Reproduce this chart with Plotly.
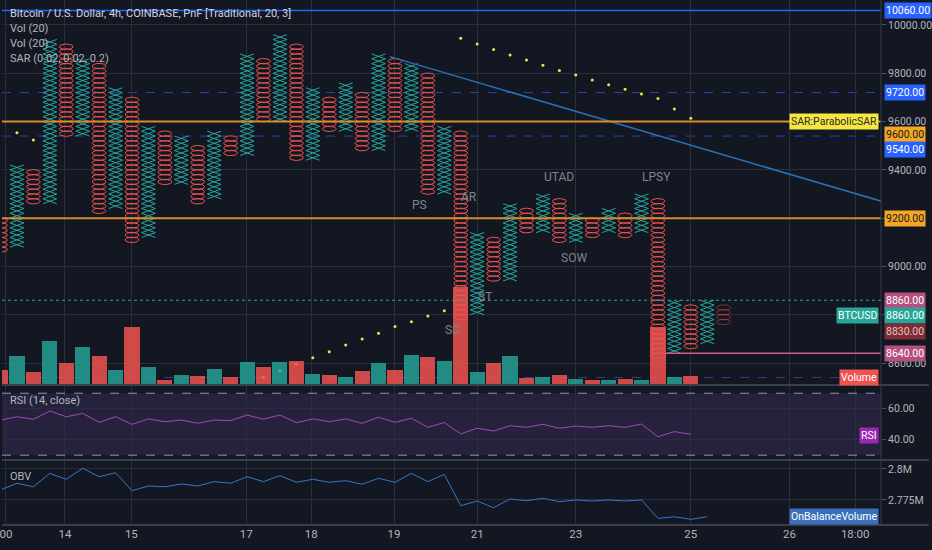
import numpy as np
import plotly.graph_objects as go

# ---- point & figure columns (box size 20, reversal 3) ----
col_kind = list("OX" * 22 + "O")
col_low = [9060, 9080, 9260, 9260, 9540, 9540, 9220, 9240, 9100, 9120,
           9340, 9340, 9260, 9280, 9460, 9460, 9600, 9600, 9440, 9440,
           9560, 9560, 9480, 9480, 9560, 9560, 9300, 9300, 8780, 8800,
           8940, 8940, 9140, 9140, 9100, 9100, 9120, 9140, 9120, 9140,
           8620, 8640, 8660, 8680, 8760]
col_high = [9200, 9420, 9400, 9940, 9920, 9860, 9840, 9740, 9700, 9580,
            9560, 9540, 9500, 9560, 9540, 9880, 9860, 9960, 9920, 9740,
            9700, 9760, 9720, 9880, 9860, 9840, 9800, 9580, 9560, 9140,
            9120, 9260, 9240, 9300, 9280, 9220, 9200, 9240, 9220, 9300,
            9280, 8860, 8840, 8860, 8840]
projected_col = 44  # last column is still forming (faded)

volume = [1530, 2930, 1270, 4370, 2170, 3830, 2930, 1500, 5830, 1830,
          530, 1030, 930, 1600, 770, 2270, 1830, 2270, 2430, 1100,
          1030, 830, 1430, 2170, 1500, 3000, 2770, 2430, 9770, 1330,
          2170, 2930, 700, 830, 1030, 600, 500, 500, 600, 500,
          5830, 770, 930]

sar_col = [1, 2, 16, 17, 18, 19, 20, 21, 22, 23, 24, 25, 26, 27,
           28, 29, 30, 31, 32, 33, 34, 35, 36, 37, 38, 39, 40, 41, 42]
sar_val = [9554, 9524, 8540, 8568, 8595, 8622, 8647, 8675, 8700, 8723, 8751, 8771, 8795, 8817,
           9945, 9921, 9899, 9876, 9855, 9833, 9812, 9793, 9772, 9752, 9734, 9714, 9696, 9652, 9614]

rsi = [52.7, 54.8, 53.2, 58.5, 54.8, 57.0, 51.2, 54.8, 49.9, 53.4,
       51.6, 52.7, 50.6, 52.7, 52.3, 55.9, 53.2, 55.9, 51.0, 53.4,
       51.6, 53.4, 50.6, 54.5, 51.2, 53.8, 48.0, 51.1, 43.7, 47.4,
       45.6, 49.0, 48.0, 49.9, 47.4, 48.8, 48.0, 49.0, 48.0, 50.1,
       41.9, 45.2, 43.5]

obv_m = [2.7831, 2.7885, 2.7857, 2.7965, 2.7917, 2.8006, 2.7938, 2.7970, 2.7825, 2.7863,
         2.7857, 2.7879, 2.7863, 2.7898, 2.7885, 2.7938, 2.7898, 2.7946, 2.7893, 2.7917,
         2.7893, 2.7906, 2.7877, 2.7925, 2.7893, 2.7965, 2.7898, 2.7957, 2.7704, 2.7742,
         2.7688, 2.7758, 2.7744, 2.7764, 2.7736, 2.7750, 2.7742, 2.7750, 2.7742, 2.7750,
         2.7602, 2.7615, 2.7594, 2.7615]

# time axis labels (column positions)
tick_pos = [0.33, 3.92, 7.96, 14.95, 18.9, 23.94, 29.0, 35.0, 42.0, 48.0, 52.0]
tick_txt = ["00", "14", "15", "17", "18", "19", "21", "23", "25", "26", "18:00"]

# wyckoff labels
wyck_txt = ["PS", "AR", "UTAD", "LPSY", "SOW", "ST", "SC"]
wyck_col = [25.5, 28.5, 34.0, 39.9, 34.9, 29.5, 27.5]
wyck_price = [9255, 9289, 9369, 9372, 9036, 8875, 8737]

# drawn trend line
trend_col = [23.68, 53.6]
trend_price = [9869, 9270]

BG = "#131722"
GRID = "#2a2e39"
TXT = "#b2b5be"
TEAL = "#26a69a"
RED = "#ef5350"
BOX = 20


def o_glyphs(cols):
    t = np.linspace(0, 2 * np.pi, 19)
    xs, ys = [], []
    for i in cols:
        for c in np.arange(col_low[i] + BOX / 2, col_high[i], BOX):
            xs += list(i + 0.42 * np.cos(t)) + [None]
            ys += list(c + 11 * np.sin(t)) + [None]
    return xs, ys


def x_glyphs(cols):
    xs, ys = [], []
    for i in cols:
        for b in np.arange(col_low[i], col_high[i], BOX):
            xs += [i - 0.42, i + 0.42, None, i - 0.42, i + 0.42, None]
            ys += [b, b + BOX, None, b + BOX, b, None]
    return xs, ys


fig = go.Figure()

xo, yo = o_glyphs([i for i, k in enumerate(col_kind) if k == "O" and i != projected_col])
xx, yx = x_glyphs([i for i, k in enumerate(col_kind) if k == "X" and i != projected_col])
xp, yp = o_glyphs([projected_col])
fig.add_trace(go.Scatter(x=xx, y=yx, mode="lines", line=dict(color=TEAL, width=1), yaxis="y"))
fig.add_trace(go.Scatter(x=xo, y=yo, mode="lines", line=dict(color=RED, width=1), yaxis="y"))
fig.add_trace(go.Scatter(x=xp, y=yp, mode="lines", line=dict(color="rgba(239,83,80,0.45)", width=1), yaxis="y"))

fig.add_trace(go.Scatter(x=trend_col, y=trend_price, mode="lines",
                         line=dict(color="#2a70b8", width=1.5), yaxis="y"))
fig.add_trace(go.Scatter(x=sar_col, y=sar_val, mode="markers",
                         marker=dict(color="#e8e84a", size=3), yaxis="y"))

vol_colors = ["rgba(38,166,154,0.82)" if col_kind[i] == "X" else "rgba(239,83,80,0.85)"
              for i in range(len(volume))]
fig.add_trace(go.Bar(x=list(range(len(volume))), y=volume, marker=dict(color=vol_colors, line=dict(width=0)),
                     width=0.92, yaxis="y2"))

fig.add_trace(go.Scatter(x=list(range(len(rsi))), y=rsi, mode="lines",
                         line=dict(color="#a347ba", width=1), yaxis="y3"))
fig.add_trace(go.Scatter(x=list(range(len(obv_m))), y=[v * 1e6 for v in obv_m], mode="lines",
                         line=dict(color="#3179c4", width=1), yaxis="y4"))

# horizontal levels: price, colour, dash, width, layer
hlines = [
    (10060, "#2962ff", "solid", 1.5, "above"),
    (9720, "#2c44a8", "dash", 1, "below"),
    (9540, "#2c44a8", "dash", 1, "below"),
    (9600, "#d98b2b", "solid", 2, "above"),
    (9200, "#d98b2b", "solid", 2, "above"),
    (8860, TEAL, "dot", 1, "above"),
    (8540, "#2c3d8f", "dash", 1, "below"),
]
shapes = []
for p, c, d, w, lay in hlines:
    shapes.append(dict(type="line", xref="paper", x0=0, x1=1, yref="y", y0=p, y1=p,
                       line=dict(color=c, dash=d, width=w), layer=lay))
shapes.append(dict(type="line", xref="x", x0=40.4, x1=53.6, yref="y", y0=8640, y1=8640,
                   line=dict(color="#d9578f", width=1.5)))

# RSI band and bounds
shapes.append(dict(type="rect", xref="paper", x0=0, x1=1, yref="y3", y0=30, y1=70,
                   fillcolor="rgba(126,87,194,0.18)", line=dict(width=0), layer="below"))
for lvl in (70, 30):
    shapes.append(dict(type="line", xref="paper", x0=0, x1=1, yref="y3", y0=lvl, y1=lvl,
                       line=dict(color="rgba(200,200,210,0.7)", dash="dash", width=1)))

# pane separators
for py in (0.26667, 0.12381, 0.0):
    shapes.append(dict(type="line", xref="paper", x0=0, x1=932 / 884, yref="paper", y0=py, y1=py,
                       line=dict(color="#3a3e4a", width=2)))
shapes.append(dict(type="line", xref="paper", x0=1, x1=1, yref="paper", y0=0, y1=1,
                   line=dict(color="#3a3e4a", width=1)))

ann = []
legend_lines = [("Bitcoin / U.S. Dollar, 4h, COINBASE, PnF [Traditional, 20, 3]", 14, "#d1d4dc"),
                ("Vol (20)", 29, TXT), ("Vol (20)", 43, TXT), ("SAR (0.02, 0.02, 0.2)", 58, TXT),
                ("RSI (14, close)", 400, TXT), ("OBV", 476, TXT)]
for t, py, c in legend_lines:
    ann.append(dict(text=t, xref="paper", yref="paper", x=6 / 884, y=1 - py / 525,
                    xanchor="left", yanchor="middle", showarrow=False, font=dict(size=11, color=c)))

for t, cx, cy in zip(wyck_txt, wyck_col, wyck_price):
    ann.append(dict(text=t, x=cx, y=cy, xref="x", yref="y", showarrow=False,
                    font=dict(size=12, color="#80848f")))

# price scale labels
price_labels = [
    ("10060.00", 10060, "#2962ff", "white", 0),
    ("9720.00", 9720, "#2962ff", "white", 0),
    ("9600.00", 9600, "#f5a623", "#131722", -13),
    ("9540.00", 9540, "#2962ff", "white", -13),
    ("9200.00", 9200, "#f5a623", "#131722", 0),
    ("8860.00", 8860, "#b5507e", "white", 0),
    ("8860.00", 8860, TEAL, "white", -15),
    ("8830.00", 8830, "#7e2d36", "#e8c0c4", -24),
    ("8640.00", 8640, "#b5507e", "white", 0),
]
for t, p, bg, fg, sh in price_labels:
    ann.append(dict(text=t, x=1, xref="paper", y=p, yref="y", xanchor="left", xshift=3, yshift=sh,
                    showarrow=False, bgcolor=bg, borderpad=1, font=dict(size=10.5, color=fg)))

side_tags = [
    ("SAR:ParabolicSAR", 9600, "y", 0, "#f5e642", "#2a2a2a"),
    ("BTCUSD", 8860, "y", -15, TEAL, "white"),
    ("Volume", 8540, "y", 0, "#ef5350", "white"),
    ("RSI", 43, "y3", 0, "#9c27b0", "white"),
    ("OnBalanceVolume", 2.7617e6, "y4", 0, "#3a6fba", "white"),
]
for t, p, ref, sh, bg, fg in side_tags:
    ann.append(dict(text=t, x=1, xref="paper", y=p, yref=ref, xanchor="right", xshift=-2, yshift=sh,
                    showarrow=False, bgcolor=bg, borderpad=1, font=dict(size=10.5, color=fg)))

main_ticks = list(range(8600, 10001, 200))
main_text = ["" if v in (8800, 9200) else f"{v:.2f}" for v in main_ticks]

axis_common = dict(side="right", anchor="x", showline=False, zeroline=False, gridcolor=GRID,
                   ticks="outside", ticklen=4, tickcolor="#50535e", tickfont=dict(size=10.5, color=TXT))

fig.update_layout(
    width=932, height=550,
    margin=dict(l=0, r=48, t=0, b=25),
    paper_bgcolor=BG, plot_bgcolor=BG,
    font=dict(family="Roboto, sans-serif", color=TXT),
    showlegend=False, hovermode=False, bargap=0,
    xaxis=dict(range=[0.09, 53.57], anchor="y4", tickvals=tick_pos, ticktext=tick_txt,
               showgrid=True, gridcolor=GRID, zeroline=False, showline=False,
               ticklabeloverflow="allow", tickfont=dict(size=11.5, color=TXT)),
    yaxis=dict(domain=[0.26667, 1], range=[8509, 10103.5], tickvals=main_ticks, ticktext=main_text,
               **axis_common),
    yaxis2=dict(overlaying="y", range=[0, 38500], visible=False),
    yaxis3=dict(domain=[0.12381, 0.26667], range=[26.9, 75.3], tickvals=[40, 60],
                ticktext=["40.00", "60.00"], **axis_common),
    yaxis4=dict(domain=[0, 0.12381], range=[2.75484e6, 2.80726e6], tickvals=[2.775e6, 2.8e6],
                ticktext=["2.775M", "2.8M"], **axis_common),
    shapes=shapes, annotations=ann,
)

fig.write_html("out.html", config={"displayModeBar": False},
               post_script="document.body.style.margin='0px';document.body.style.background='#131722';")
